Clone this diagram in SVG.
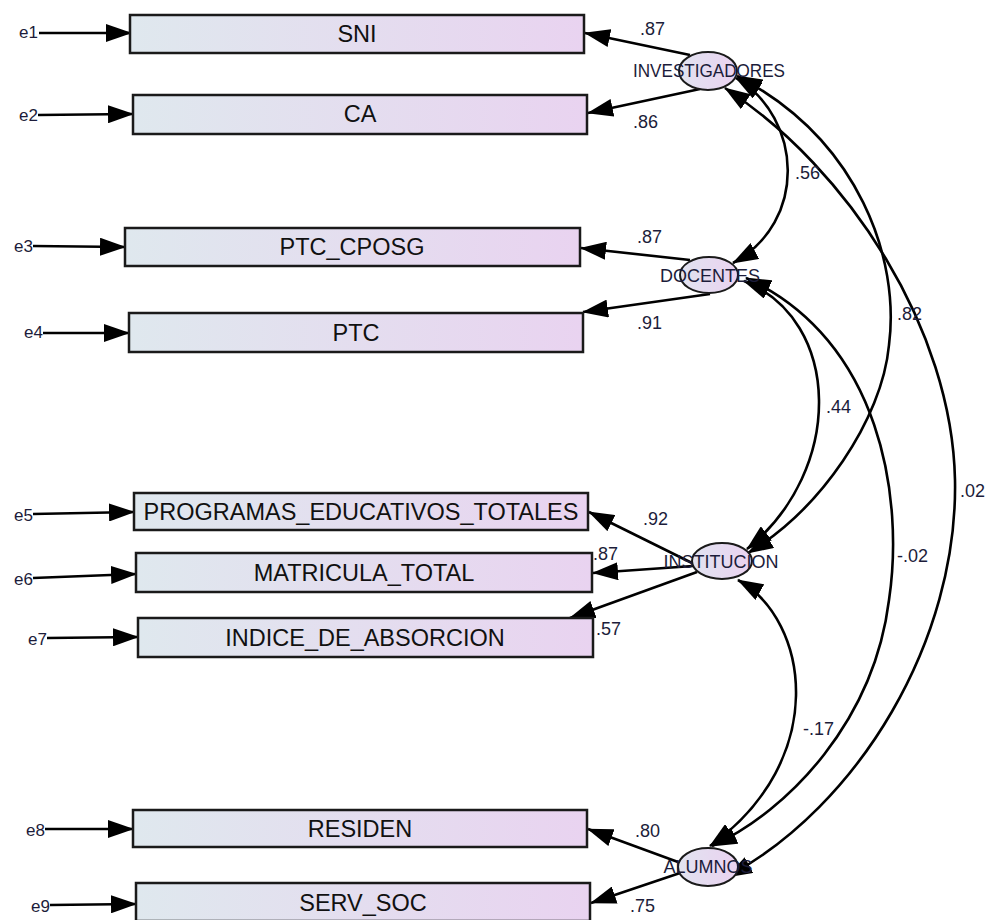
<svg xmlns="http://www.w3.org/2000/svg" width="992" height="920" viewBox="0 0 992 920">
<defs>
<linearGradient id="boxg" x1="0" y1="0" x2="1" y2="0">
<stop offset="0" stop-color="#dfe8ee"/>
<stop offset="1" stop-color="#e9d3f0"/>
</linearGradient>
<linearGradient id="ellg" x1="0" y1="0" x2="1" y2="0">
<stop offset="0" stop-color="#e1e3f0"/>
<stop offset="1" stop-color="#ead2f0"/>
</linearGradient>
<marker id="ah" markerUnits="userSpaceOnUse" markerWidth="28" markerHeight="18" refX="25" refY="9" orient="auto-start-reverse">
<path d="M0,0 L26,9 L0,18 Z" fill="#000"/>
</marker>
</defs>
<style>
.box{fill:url(#boxg);stroke:#1a1a1a;stroke-width:2.5}
.ell{fill:url(#ellg);stroke:#1a1a1a;stroke-width:2}
.bl{font-family:"Liberation Sans",Arial,sans-serif;font-size:23.5px;fill:#111;text-anchor:middle}
.ll{font-family:"Liberation Sans",Arial,sans-serif;font-size:18px;fill:#1c1c3a;text-anchor:middle}
.el{font-family:"Liberation Sans",Arial,sans-serif;font-size:17px;fill:#1c1c3a;text-anchor:end}
.vl{font-family:"Liberation Sans",Arial,sans-serif;font-size:18px;fill:#1c1c3a}
.ln{fill:none;stroke:#000;stroke-width:2.6;marker-end:url(#ah)}
.cv{fill:none;stroke:#000;stroke-width:2.6;marker-start:url(#ah);marker-end:url(#ah)}
</style>
<rect width="992" height="920" fill="#fff"/>
<g id="connectors">
<path class="ln" d="M39,33 L131,33"/>
<path class="ln" d="M38,115 L133,114"/>
<path class="ln" d="M33,246 L125,247"/>
<path class="ln" d="M43,333 L129,333"/>
<path class="ln" d="M33,514 L134,512"/>
<path class="ln" d="M33,578 L136,574"/>
<path class="ln" d="M47,638 L138,637"/>
<path class="ln" d="M45,829 L133,829"/>
<path class="ln" d="M50,905 L136,904"/>
<path class="ln" d="M690,55 L585,33"/>
<path class="ln" d="M700,89 L588,113"/>
<path class="ln" d="M690,260 L581,248"/>
<path class="ln" d="M710,294 L583,312"/>
<path class="ln" d="M692,563 L589,512"/>
<path class="ln" d="M693,566 L593,573"/>
<path class="ln" d="M697,572 L570,618"/>
<path class="ln" d="M678,862 L588,829"/>
<path class="ln" d="M680,873 L591,903"/>
<path class="cv" d="M736,78 C803,118 808,222 733,263"/>
<path class="cv" d="M737,76 C860,140 900,260 889,345 C882,420 820,510 748,553"/>
<path class="cv" d="M725,88 C850,170 952,330 955,480 C958,640 860,805 727,877"/>
<path class="cv" d="M744,281 C842,320 845,470 747,549"/>
<path class="cv" d="M746,278 C882,340 904,500 889,600 C874,720 790,810 712,846"/>
<path class="cv" d="M738,580 C810,620 830,760 710,846"/>
</g>
<g id="SNI"><rect class="box" x="130" y="15" width="454" height="38"/><text class="bl" x="357" y="42">SNI</text></g>
<g id="CA"><rect class="box" x="133" y="95" width="454" height="39"/><text class="bl" x="360" y="122">CA</text></g>
<g id="PTC_CPOSG"><rect class="box" x="125" y="228" width="455" height="38"/><text class="bl" x="352" y="255">PTC_CPOSG</text></g>
<g id="PTC"><rect class="box" x="129" y="313" width="454" height="39"/><text class="bl" x="356" y="341">PTC</text></g>
<g id="PROGRAMAS_EDUCATIVOS_TOTALES"><rect class="box" x="134" y="493" width="454" height="37"/><text class="bl" x="361" y="520">PROGRAMAS_EDUCATIVOS_TOTALES</text></g>
<g id="MATRICULA_TOTAL"><rect class="box" x="136" y="553" width="456" height="39"/><text class="bl" x="364" y="581">MATRICULA_TOTAL</text></g>
<g id="INDICE_DE_ABSORCION"><rect class="box" x="138" y="618" width="455" height="39"/><text class="bl" x="365" y="646">INDICE_DE_ABSORCION</text></g>
<g id="RESIDEN"><rect class="box" x="133" y="810" width="454" height="37"/><text class="bl" x="360" y="837">RESIDEN</text></g>
<g id="SERV_SOC"><rect class="box" x="136" y="883" width="454" height="38"/><text class="bl" x="363" y="911">SERV_SOC</text></g>
<g id="INVESTIGADORES"><ellipse class="ell" cx="708" cy="71" rx="29" ry="19"/><text class="ll" x="709" y="77" textLength="152" lengthAdjust="spacingAndGlyphs">INVESTIGADORES</text></g>
<g id="DOCENTES"><ellipse class="ell" cx="709" cy="275" rx="29" ry="18"/><text class="ll" x="710" y="282">DOCENTES</text></g>
<g id="INSTITUCION"><ellipse class="ell" cx="722" cy="561" rx="30" ry="18"/><text class="ll" x="721" y="568">INSTITUCION</text></g>
<g id="ALUMNOS"><ellipse class="ell" cx="708" cy="867" rx="30" ry="19"/><text class="ll" x="708" y="873">ALUMNOS</text></g>
<g id="e1"><text class="el" x="38" y="38">e1</text></g>
<g id="e2"><text class="el" x="38" y="121">e2</text></g>
<g id="e3"><text class="el" x="33" y="252">e3</text></g>
<g id="e4"><text class="el" x="43" y="338">e4</text></g>
<g id="e5"><text class="el" x="33" y="521">e5</text></g>
<g id="e6"><text class="el" x="33" y="585">e6</text></g>
<g id="e7"><text class="el" x="47" y="645">e7</text></g>
<g id="e8"><text class="el" x="45" y="836">e8</text></g>
<g id="e9"><text class="el" x="50" y="912">e9</text></g>
<g id="values">
<text class="vl" x="640" y="35">.87</text>
<text class="vl" x="633" y="128">.86</text>
<text class="vl" x="795" y="179">.56</text>
<text class="vl" x="637" y="243">.87</text>
<text class="vl" x="637" y="329">.91</text>
<text class="vl" x="897" y="320">.82</text>
<text class="vl" x="826" y="413">.44</text>
<text class="vl" x="960" y="497">.02</text>
<text class="vl" x="897" y="562">-.02</text>
<text class="vl" x="643" y="525">.92</text>
<text class="vl" x="593" y="560">.87</text>
<text class="vl" x="596" y="635">.57</text>
<text class="vl" x="803" y="735">-.17</text>
<text class="vl" x="635" y="837">.80</text>
<text class="vl" x="630" y="912">.75</text>
</g>
</svg>
